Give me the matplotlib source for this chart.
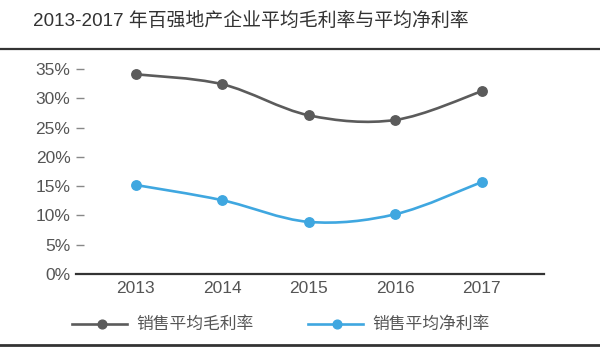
import matplotlib
matplotlib.use("Agg")
import matplotlib.pyplot as plt
from matplotlib.path import Path
from matplotlib.patches import PathPatch
from matplotlib.lines import Line2D
import numpy as np

years = ["2013", "2014", "2015", "2016", "2017"]
gross_margin = [34.1, 32.4, 27.1, 26.3, 31.2]
net_margin = [15.2, 12.6, 8.9, 10.2, 15.7]
yticks = [0, 5, 10, 15, 20, 25, 30, 35]
title = "2013-2017 年百强地产企业平均毛利率与平均净利率"
labels = ["销售平均毛利率", "销售平均净利率"]

GRAY = "#5b5b5b"
BLUE = "#3fa7e0"
FONT = ["Liberation Sans", "Noto Sans CJK SC"]
CJK = ["Noto Sans CJK SC", "Liberation Sans"]

W, H = 600, 364
fig = plt.figure(figsize=(W / 100, H / 100), dpi=100)
fig.patch.set_facecolor("white")

ax = fig.add_axes([76 / W, (H - 274) / H, (544 - 76) / W, (274 - 69) / H])
ax.set_xlim(-0.69, 4.72)
ax.set_ylim(0, 35)


def smooth_path(xs, ys):
    pts = np.column_stack([xs, ys]).astype(float)
    n = len(pts)
    verts = [pts[0]]
    codes = [Path.MOVETO]
    for i in range(n - 1):
        p0 = pts[i - 1] if i > 0 else pts[i]
        p1 = pts[i]
        p2 = pts[i + 1]
        p3 = pts[i + 2] if i + 2 < n else pts[i + 1]
        c1 = p1 + (p2 - p0) / 6.0
        c2 = p2 - (p3 - p1) / 6.0
        verts += [c1, c2, p2]
        codes += [Path.CURVE4] * 3
    return Path(verts, codes)


x = np.arange(len(years))
for vals, col in [(gross_margin, GRAY), (net_margin, BLUE)]:
    patch = PathPatch(smooth_path(x, vals), facecolor="none", edgecolor=col,
                      lw=1.9, clip_on=False, zorder=3)
    ax.add_patch(patch)
    ax.plot(x, vals, linestyle="none", marker="o", ms=6.8, color=col,
            clip_on=False, zorder=4)

for s in ["top", "right", "left"]:
    ax.spines[s].set_visible(False)
ax.spines["bottom"].set_color("#333333")
ax.spines["bottom"].set_linewidth(1.6)

ax.set_yticks(yticks)
ax.set_yticklabels([f"{v}%" for v in yticks])
ax.tick_params(axis="y", direction="in", length=6, width=1, color="#888888",
               pad=4, labelsize=12.5, labelcolor="#555555")
ax.set_xticks(x)
ax.set_xticklabels(years)
ax.tick_params(axis="x", length=0, pad=5, labelsize=12.5, labelcolor="#555555")
for lab in ax.get_xticklabels() + ax.get_yticklabels():
    lab.set_family(FONT)
ax.yaxis.get_major_ticks()[0].tick1line.set_visible(False)

# Title
fig.text(251 / W, 1 - 21 / H, title, ha="center", va="center", fontsize=13.6,
         color="#333333", family=FONT, weight="medium")
fig.add_artist(Line2D([0, 1], [1 - 49 / H] * 2, color="#333333", lw=1.6))
fig.add_artist(Line2D([0, 1], [1 - 345 / H] * 2, color="#333333", lw=2.0))

# Legend
ly = 1 - 324 / H
for (x0, x1, xm, xt), col, lab in [((72, 127, 102, 136), GRAY, labels[0]),
                                   ((308, 363, 337, 372), BLUE, labels[1])]:
    fig.add_artist(Line2D([x0 / W, x1 / W], [ly, ly], color=col, lw=1.9))
    fig.add_artist(Line2D([xm / W], [ly], color=col, marker="o", ms=6.3))
    fig.text(xt / W, ly, lab, ha="left", va="center", fontsize=12.1,
             color="#555555", family=CJK)

fig.savefig("out.png", dpi=100, facecolor="white")
